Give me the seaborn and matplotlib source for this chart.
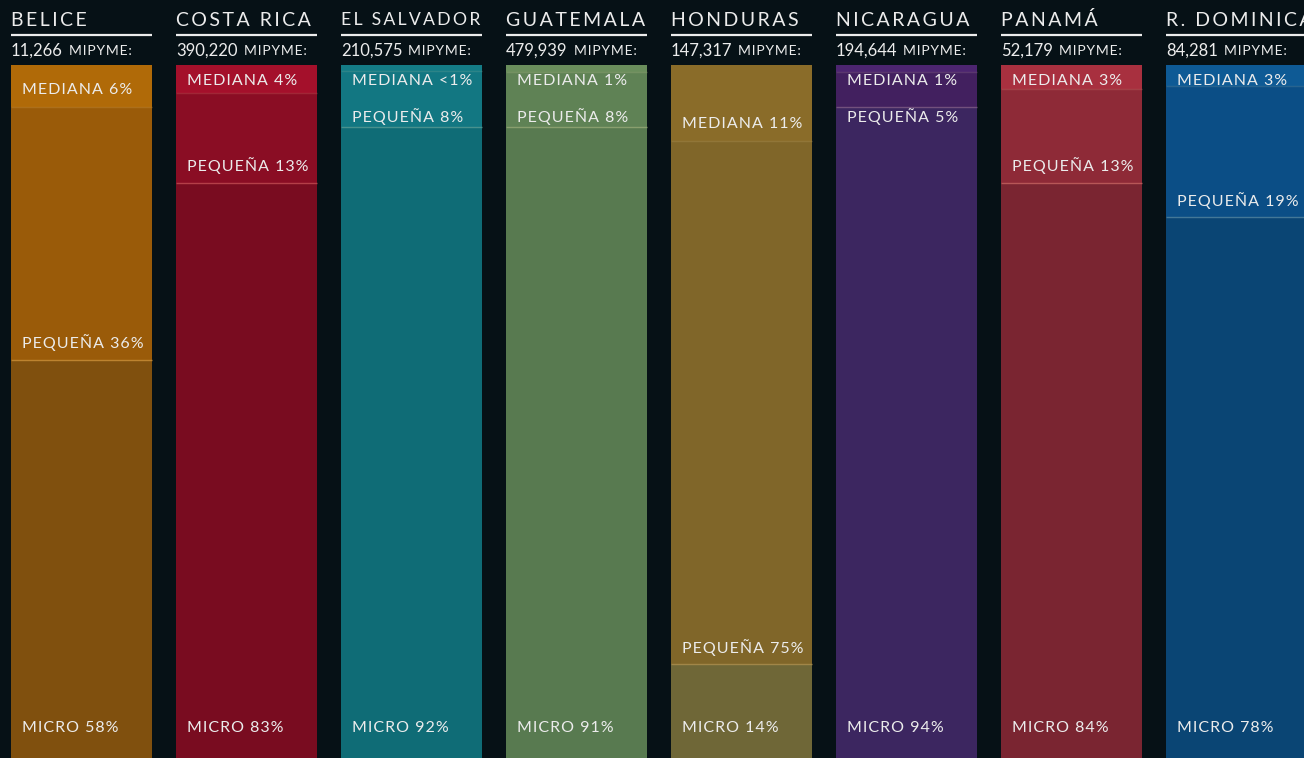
import numpy as np
import pandas as pd
import seaborn as sns
import matplotlib.pyplot as plt
from matplotlib import colors as mcolors

paises = ["BELICE", "COSTA RICA", "EL SALVADOR", "GUATEMALA",
          "HONDURAS", "NICARAGUA", "PANAMÁ", "R. DOMINICANA"]
total_mipyme = ["11,266", "390,220", "210,575", "479,939",
                "147,317", "194,644", "52,179", "84,281"]
mediana = [6, 4, 0.9, 1, 11, 1, 3.5, 3]
pequena = [36.5, 13, 8, 8, 75.5, 5, 13.5, 19]
micro = [57.5, 83, 91.1, 91, 13.5, 94, 83, 78]
mediana_txt = ["6%", "4%", "<1%", "1%", "11%", "1%", "3%", "3%"]
pequena_txt = ["36%", "13%", "8%", "8%", "75%", "5%", "13%", "19%"]
micro_txt = ["58%", "83%", "92%", "91%", "14%", "94%", "84%", "78%"]

col_mediana = ["#b06a08", "#a4102b", "#147c86", "#6a8e5c",
               "#8a6c29", "#4c2570", "#a8303f", "#0e5a95"]
col_pequena = ["#9a5b09", "#8a0d24", "#127782", "#5f8255",
               "#806629", "#42205f", "#8e2a37", "#0b4e86"]
col_micro = ["#80500e", "#790c20", "#0f6c76", "#587a50",
             "#6f6737", "#3c2660", "#7a2531", "#0a4574"]

df = pd.DataFrame({"pais": paises, "mediana": mediana,
                   "pequena": pequena, "micro": micro})
df["c1"] = df["mediana"]
df["c2"] = df["mediana"] + df["pequena"]
df["c3"] = df["c2"] + df["micro"]

fondo = "#061116"
fig = plt.figure(figsize=(13.04, 7.58), dpi=100, facecolor=fondo)
ax = fig.add_axes([0, 0, 1, 1])
ax.set_facecolor(fondo)

ancho = 141 / 165
for col, pal in [("c3", col_micro), ("c2", col_pequena), ("c1", col_mediana)]:
    sns.barplot(data=df, x="pais", y=col, hue="pais", palette=pal,
                width=ancho, saturation=1, legend=False, ax=ax)

px = 6.93  # pixeles por punto porcentual
ax.set_xlim(-81.5 / 165, (1304 - 81.5) / 165)
ax.set_ylim(100, -65 / px)
ax.axis("off")

fam = ["Lato", "DejaVu Sans"]
blanco = "#ececec"
fig.canvas.draw()
rend = fig.canvas.get_renderer()


def espaciado(s, sep="\u200a"):
    return sep.join(s)


for i, p in enumerate(paises):
    x0 = i - ancho / 2
    x1 = i + ancho / 2
    # lineas entre segmentos
    for j, y in enumerate([df["c1"][i], df["c2"][i]]):
        claro = np.array(mcolors.to_rgb(col_mediana[i])) * 0.75 + 0.25 * np.array([1.0, 0.9, 0.7])
        ax.hlines(y, x0, x1, color=np.clip(claro, 0, 1), lw=1, alpha=0.45 if j == 0 else 0.9)

    # encabezado
    tt = ax.text(x0, -45 / px, "\u2009".join(p), color=blanco, fontsize=14,
                 family=fam, ha="left", va="center")
    if i < len(paises) - 1:
        w = tt.get_window_extent(rend).width
        if w > 141:
            tt.set_fontsize(14 * 140 / w)
    ax.hlines(-30 / px, x0, x1, color=blanco, lw=1.6)
    t = ax.text(x0, -14 / px, total_mipyme[i], color=blanco, fontsize=12,
                family=fam, ha="left", va="center")
    bb = t.get_window_extent(rend)
    xd = ax.transData.inverted().transform((bb.x1 + 6, 0))[0]
    ax.text(xd, -14 / px, espaciado("MIPYME:"), color=blanco, fontsize=10,
            family=fam, ha="left", va="center")

    # etiquetas de los segmentos
    xl = x0 + 11 / 165
    y_med = max(df["c1"][i] - 17 / px, 16 / px)
    y_peq = max(df["c2"][i] - 17 / px, y_med + 36 / px)
    ax.text(xl, y_med, espaciado("MEDIANA " + mediana_txt[i]), color=blanco,
            fontsize=11.5, family=fam, ha="left", va="center")
    ax.text(xl, y_peq, espaciado("PEQUEÑA " + pequena_txt[i]), color=blanco,
            fontsize=11.5, family=fam, ha="left", va="center")
    ax.text(xl, 100 - 30 / px, espaciado("MICRO " + micro_txt[i]), color=blanco,
            fontsize=11.5, family=fam, ha="left", va="center")

plt.savefig("out.png", dpi=100, facecolor=fondo)
